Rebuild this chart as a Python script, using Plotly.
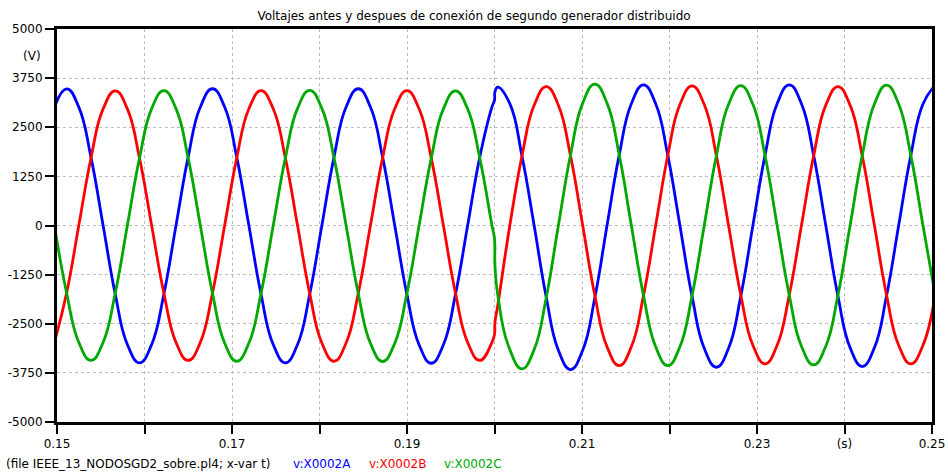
import plotly.graph_objects as go

# ---- data ----
t_s = [
    0.14971, 0.15110, 0.15249, 0.15388, 0.15527, 0.15666, 0.15804, 0.15943, 0.16082, 0.16221,
    0.16360, 0.16499, 0.16638, 0.16777, 0.16916, 0.17054, 0.17193, 0.17332, 0.17471, 0.17610,
    0.17749, 0.17888, 0.18027, 0.18166, 0.18304, 0.18443, 0.18582, 0.18721, 0.18860, 0.18999,
    0.19138, 0.19277, 0.19416, 0.19554, 0.19693, 0.19832, 0.19971,
    0.20000, 0.20005,
    0.20036, 0.20175, 0.20314, 0.20453, 0.20592, 0.20730, 0.20869, 0.21008, 0.21147, 0.21286,
    0.21425, 0.21564, 0.21703, 0.21842, 0.21980, 0.22119, 0.22258, 0.22397, 0.22536, 0.22675,
    0.22814, 0.22953, 0.23092, 0.23230, 0.23369, 0.23508, 0.23647, 0.23786, 0.23925, 0.24064,
    0.24203, 0.24342, 0.24480, 0.24619, 0.24758, 0.24897, 0.25036,
]

v_X0002A = [
    3014, 3478, 3012, 1739, 0, -1748, -3027, -3495, -3027, -1748,
    0, 1740, 3014, 3480, 3014, 1740, 0, -1748, -3027, -3495,
    -3027, -1748, 0, 1740, 3014, 3480, 3014, 1740, 0, -1752,
    -3035, -3505, -3035, -1752, 0, 1742, 3017,
    3189, 3400,
    3520, 3100, 1768, 0, -1833, -3175, -3666, -3175, -1833, 0,
    1790, 3099, 3579, 3099, 1790, 0, -1804, -3124, -3607, -3124,
    -1804, 0, 1790, 3099, 3579, 3099, 1790, 0, -1795, -3108,
    -3589, -3108, -1795, 0, 1785, 3092, 3570,
]

v_X0002B = [
    -2970, -1715, 0, 1713, 2967, 3426, 2967, 1713, 0, -1717,
    -2974, -3434, -2974, -1717, 0, 1715, 2970, 3430, 2970, 1715,
    0, -1727, -2991, -3454, -2991, -1727, 0, 1715, 2970, 3430,
    2970, 1715, 0, -1717, -2974, -3434, -2974,
    -2770, -2470,
    -2050, 0, 1768, 3061, 3535, 3061, 1768, 0, -1782, -3087,
    -3564, -3087, -1782, 0, 1777, 3077, 3553, 3077, 1777, 0,
    -1760, -3048, -3520, -3048, -1760, 0, 1768, 3062, 3536, 3062,
    1768, 0, -1760, -3048, -3520, -3048, -1760,
]

v_X0002C = [
    0, -1717, -2974, -3434, -2974, -1717, 0, 1717, 2974, 3434,
    2974, 1717, 0, -1727, -2991, -3454, -2991, -1727, 0, 1720,
    2979, 3440, 2979, 1720, 0, -1730, -2996, -3460, -2996, -1730,
    0, 1713, 2967, 3426, 2967, 1713, 0,
    -330, -1000,
    -1750, -3159, -3648, -3159, -1824, 0, 1799, 3115, 3597, 3115,
    1799, 0, -1782, -3087, -3564, -3087, -1782, 0, 1781, 3084,
    3561, 3084, 1781, 0, -1773, -3071, -3546, -3071, -1773, 0,
    1785, 3092, 3570, 3092, 1785, 0, -1760,
]

x_tickvals = [0.15, 0.16, 0.17, 0.18, 0.19, 0.20, 0.21, 0.22, 0.23, 0.24, 0.25]
x_ticktext = ["0.15", "", "0.17", "", "0.19", "", "0.21", "", "0.23", "(s)", "0.25"]
y_tickvals = [5000, 3750, 2500, 1250, 0, -1250, -2500, -3750, -5000]
y_ticktext = ["5000", "3750", "2500", "1250", "0", "-1250", "-2500", "-3750", "-5000"]

series_names = ["v:X0002A", "v:X0002B", "v:X0002C"]
series_colors = ["#0000FF", "#FF0000", "#00A800"]
series_values = [v_X0002A, v_X0002B, v_X0002C]

title_text = "Voltajes antes y despues de conexión de segundo generador distribuido"
file_text = "(file IEEE_13_NODOSGD2_sobre.pl4; x-var t)"

FONT = "DejaVu Sans"
FS = 12

fig = go.Figure()
for name, col, vals in zip(series_names, series_colors, series_values):
    fig.add_trace(go.Scatter(
        x=t_s, y=vals, mode="lines", name=name,
        line=dict(color=col, width=2.8, shape="spline", smoothing=1.3),
        hoverinfo="skip",
    ))

W, H = 948, 476
ML, MR, MT, MB = 57, 16, 29, 54
PW = W - ML - MR
PH = H - MT - MB

def px_to_paper_x(px):
    return (px - ML) / PW

def px_to_paper_y(py):
    return (H - MB - py) / PH

axis_common = dict(
    showline=True, linecolor="black", linewidth=3, mirror=True,
    ticks="outside", tickcolor="black", tickwidth=2, ticklen=9,
    showgrid=True, gridcolor="#bdbdbd", gridwidth=1, griddash="3px,3px",
    zeroline=False, automargin=False,
    tickfont=dict(family=FONT, size=FS, color="black"),
)

fig.update_layout(
    width=W, height=H,
    margin=dict(l=ML, r=MR, t=MT, b=MB, autoexpand=False),
    paper_bgcolor="white", plot_bgcolor="white",
    showlegend=False,
    font=dict(family=FONT, size=FS, color="black"),
    title=dict(text=title_text, x=0.5, xref="container", xanchor="center",
               y=1 - 16 / H, yref="container", yanchor="middle", automargin=False,
               font=dict(family=FONT, size=FS, color="black")),
    xaxis=dict(range=[0.15, 0.25], tickmode="array", tickvals=x_tickvals,
               ticktext=x_ticktext, **axis_common),
    yaxis=dict(range=[-5000, 5000], tickmode="array", tickvals=y_tickvals,
               ticktext=y_ticktext, **axis_common),
)

# unit label on the y axis
fig.add_annotation(text="(V)", xref="paper", yref="y", x=px_to_paper_x(43), y=4320,
                   xanchor="right", yanchor="middle", showarrow=False,
                   font=dict(family=FONT, size=FS, color="black"))

# bottom legend line
legend_items = [(file_text, "black", 4)] + [
    (n, c, p) for n, c, p in zip(series_names, series_colors, [291, 367, 442])
]
for txt, col, px in legend_items:
    fig.add_annotation(text=txt, xref="paper", yref="paper",
                       x=px_to_paper_x(px), y=px_to_paper_y(464),
                       xanchor="left", yanchor="middle", showarrow=False,
                       font=dict(family=FONT, size=FS, color=col))

fig.write_html("out.html",
               config={"displayModeBar": False, "staticPlot": True},
               post_script="document.body.style.margin='0';document.body.style.padding='0';")
